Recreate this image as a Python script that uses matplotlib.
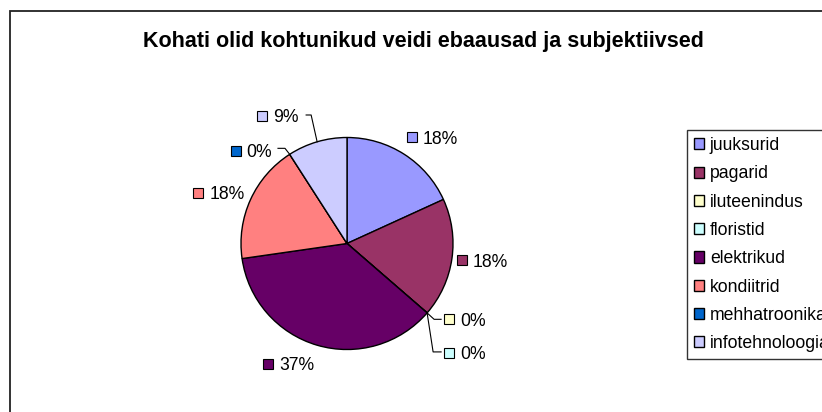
import numpy as np
import matplotlib
matplotlib.use("Agg")
import matplotlib.pyplot as plt
from matplotlib.patches import Rectangle

plt.rcParams['font.family'] = ['Liberation Sans', 'DejaVu Sans']

# ---- data ----
title = "Kohati olid kohtunikud veidi ebaausad ja subjektiivsed"
categories = ["juuksurid", "pagarid", "iluteenindus", "floristid",
              "elektrikud", "kondiitrid", "mehhatroonika", "infotehnoloogia"]
counts = [2, 2, 0, 0, 4, 2, 0, 1]
colors = ["#9999FF", "#993366", "#FFFFCC", "#CCFFFF",
          "#660066", "#FF8080", "#0066CC", "#CCCCFF"]


def percent_labels(vals):
    # percentages rounded so that they add up to 100 (largest remainder)
    vals = np.asarray(vals, dtype=float)
    raw = vals / vals.sum() * 100
    fl = np.floor(raw).astype(int)
    rest = 100 - fl.sum()
    order = np.argsort(-(raw - fl))
    for k in order[:rest]:
        fl[k] += 1
    return [f"{v}%" for v in fl]


pct = percent_labels(counts)

# ---- layout (pixels, y measured downward) ----
W, H = 822, 412
fig = plt.figure(figsize=(W / 100, H / 100), dpi=100)
fig.patch.set_facecolor("white")

# chart frame (right and bottom lie outside the picture)
fig.add_artist(Rectangle((10 / W, -0.2), 1.3, 1 - 11 / H + 0.2,
                         transform=fig.transFigure, fill=False,
                         edgecolor="#222222", linewidth=1.3))

fig.text(423.4 / W, 1 - 46.7 / H, title, ha="center", va="baseline",
         fontsize=15.5, fontweight="bold", color="black")

cx, cy, r = 347, 243.5, 106
ax = fig.add_axes([(cx - r) / W, (H - cy - r) / H, 2 * r / W, 2 * r / H])
wedges, _ = ax.pie(counts, colors=colors, startangle=90, counterclock=False,
                   wedgeprops=dict(edgecolor="black", linewidth=1.0))
ax.set_xlim(-1, 1)
ax.set_ylim(-1, 1)
ax.axis("off")

px = r  # pixels per data unit

# label offsets from the wedge's mid-edge point (pixels, y down) to text left/center
label_offsets = [(18.4, -17.1), (20.8, 1.7), (32.9, 6.3), (32.9, 39.6),
                 (-38.1, 18.5), (-41.3, -6.7), (-43.0, -3.3), (-43.8, -25.8)]
# leader line shapes (pixels relative to edge point, y down)
leaders = {
    2: [(0, 0), (7, 6.4), (14, 6.4)],
    3: [(0, 0), (6, 39), (14, 39)],
    6: [(0, 0), (-4.7, -6), (-11.7, -6)],
    7: [(0, 0), (-6, -26.8), (-11, -26.8)],
}

fs = 12.7
cap = 0.716 * fs * 100 / 72
for i, w in enumerate(wedges):
    mid = np.deg2rad((w.theta1 + w.theta2) / 2)
    ex, ey = np.cos(mid), np.sin(mid)
    dx, dy = label_offsets[i]
    tx, ty = ex + dx / px, ey - dy / px
    ax.text(tx, ty - (cap / 2) / px, pct[i], ha="left", va="baseline",
            fontsize=fs, color="black", clip_on=False)
    ax.plot([tx - 11 / px], [ty], marker="s", ms=6.8, mfc=colors[i],
            mec="black", mew=0.8, clip_on=False, linestyle="none")
    if i in leaders:
        pts = leaders[i]
        ax.plot([ex + p[0] / px for p in pts], [ey - p[1] / px for p in pts],
                color="black", lw=0.8, clip_on=False)

leg = fig.legend(wedges, categories, loc="upper left",
                 bbox_to_anchor=(686.5 / W, 1 - 130 / H),
                 bbox_transform=fig.transFigure, frameon=True, fancybox=False,
                 borderaxespad=0, borderpad=0.4, labelspacing=0.64,
                 handlelength=0.6, handleheight=0.6, handletextpad=0.32,
                 fontsize=fs)
leg.get_frame().set_edgecolor("#333333")
leg.get_frame().set_linewidth(1.0)
leg.get_frame().set_alpha(1)

fig.savefig("out.png", dpi=100)
